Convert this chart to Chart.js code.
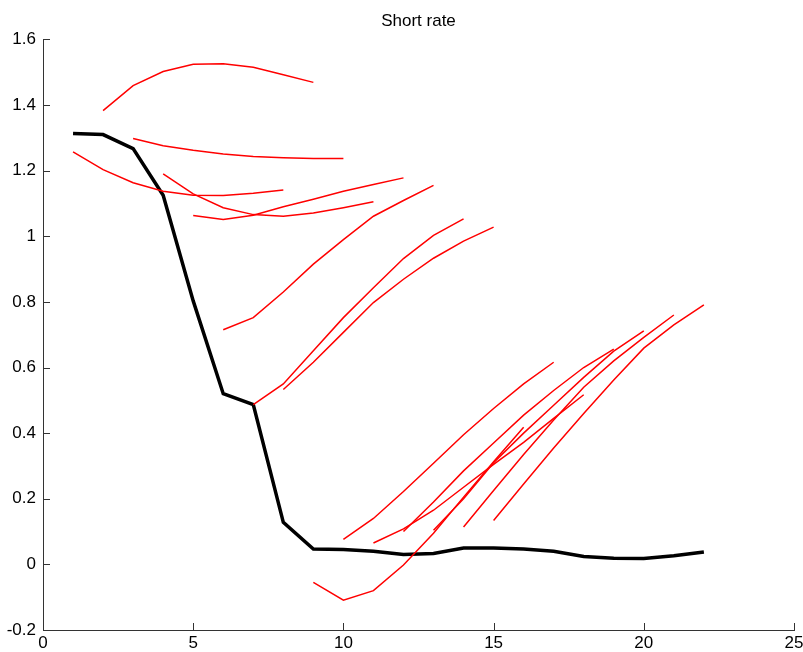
<!DOCTYPE html>
<html>
<head>
<meta charset="utf-8">
<title>Short rate</title>
<script src="https://cdn.jsdelivr.net/npm/chart.js@4/dist/chart.umd.min.js"></script>
<style>
  html, body { margin: 0; padding: 0; background: #fff; }
  #wrap { width: 803px; height: 652px; position: relative; }
</style>
</head>
<body>
<div id="wrap"><canvas id="shortRateChart"></canvas></div>
<script>
// realised short rate, one value per period
const periods = [1, 2, 3, 4, 5, 6, 7, 8, 9, 10, 11, 12, 13, 14, 15, 16, 17, 18, 19, 20, 21, 22];
const shortRate = [1.313, 1.31, 1.267, 1.125, 0.803, 0.52, 0.487, 0.128, 0.047, 0.045, 0.04,
                   0.03, 0.033, 0.05, 0.05, 0.047, 0.04, 0.024, 0.019, 0.018, 0.026, 0.038];

// forecast paths: each starts at its period and runs 8 periods ahead
const forecastStarts = [1, 2, 3, 4, 5, 6, 7, 8, 9, 10, 11, 12, 13, 14, 15];
const forecasts = [
    [1.257, 1.203, 1.163, 1.137, 1.125, 1.124, 1.131, 1.141],
    [1.383, 1.459, 1.502, 1.524, 1.526, 1.515, 1.492, 1.469],
    [1.298, 1.276, 1.262, 1.251, 1.243, 1.239, 1.237, 1.237],
    [1.19, 1.129, 1.087, 1.066, 1.061, 1.071, 1.087, 1.105],
    [1.063, 1.051, 1.064, 1.09, 1.113, 1.137, 1.158, 1.178],
    [0.715, 0.752, 0.83, 0.915, 0.99, 1.061, 1.109, 1.155],
    [0.487, 0.55, 0.651, 0.752, 0.843, 0.932, 1.003, 1.053],
    [0.533, 0.616, 0.707, 0.798, 0.869, 0.933, 0.985, 1.028],
    [-0.055, -0.109, -0.08, -0.002, 0.095, 0.205, 0.313, 0.418],
    [0.076, 0.14, 0.222, 0.308, 0.395, 0.475, 0.55, 0.616],
    [0.065, 0.108, 0.165, 0.235, 0.305, 0.372, 0.445, 0.517],
    [0.1, 0.19, 0.285, 0.37, 0.455, 0.53, 0.6, 0.656],
    [0.104, 0.2, 0.31, 0.4, 0.485, 0.57, 0.65, 0.712],
    [0.114, 0.225, 0.335, 0.44, 0.54, 0.62, 0.692, 0.76],
    [0.134, 0.245, 0.355, 0.46, 0.562, 0.659, 0.73, 0.791]
];

const xTicks = [0, 5, 10, 15, 20, 25];
const yTicks = [-0.2, 0, 0.2, 0.4, 0.6, 0.8, 1, 1.2, 1.4, 1.6];

const FONT = "'Liberation Sans', Arial, sans-serif";
const AXIS_COLOR = "#333";

// matlab style ticks pointing into the plot
const inwardTicks = {
    id: "inwardTicks",
    afterDraw(chart) {
        const { ctx, chartArea, scales } = chart;
        const len = 7;
        ctx.save();
        ctx.strokeStyle = AXIS_COLOR;
        ctx.lineWidth = 1;
        ctx.beginPath();
        xTicks.forEach(function (v) {
            const px = Math.round(scales.x.getPixelForValue(v)) + 0.5;
            ctx.moveTo(px, chartArea.bottom);
            ctx.lineTo(px, chartArea.bottom - len);
        });
        yTicks.forEach(function (v) {
            const py = Math.round(scales.y.getPixelForValue(v)) + 0.5;
            ctx.moveTo(chartArea.left, py);
            ctx.lineTo(chartArea.left + len, py);
        });
        ctx.stroke();
        ctx.restore();
    }
};

const datasets = forecasts.map(function (path, i) {
    return {
        label: "Forecast from " + forecastStarts[i],
        data: path.map(function (v, h) { return { x: forecastStarts[i] + h, y: v }; }),
        borderColor: "#ff0000",
        borderWidth: 1.5,
        order: 0
    };
});
datasets.push({
    label: "Short rate",
    data: periods.map(function (p, i) { return { x: p, y: shortRate[i] }; }),
    borderColor: "#000000",
    borderWidth: 3.5,
    order: 1
});

new Chart(document.getElementById("shortRateChart"), {
    type: "line",
    data: { datasets: datasets },
    options: {
        responsive: true,
        maintainAspectRatio: false,
        animation: false,
        layout: { padding: 0 },
        elements: {
            point: { radius: 0 },
            line: { tension: 0, borderCapStyle: "butt", borderJoinStyle: "miter" }
        },
        scales: {
            x: {
                type: "linear",
                min: 0,
                max: 25,
                afterBuildTicks: function (scale) {
                    scale.ticks = xTicks.map(function (v) { return { value: v }; });
                },
                afterFit: function (scale) {
                    scale.height = 22;
                    scale.paddingRight = 9;
                },
                grid: { display: false, drawTicks: false },
                border: { display: true, color: AXIS_COLOR, width: 1 },
                ticks: {
                    color: "#000",
                    padding: 3,
                    maxRotation: 0,
                    font: { family: FONT, size: 17 }
                }
            },
            y: {
                type: "linear",
                min: -0.2,
                max: 1.6,
                afterBuildTicks: function (scale) {
                    scale.ticks = yTicks.map(function (v) { return { value: v }; });
                },
                afterFit: function (scale) { scale.width = 43; },
                grid: { display: false, drawTicks: false },
                border: { display: true, color: AXIS_COLOR, width: 1 },
                ticks: {
                    color: "#000",
                    padding: 7,
                    font: { family: FONT, size: 17 },
                    callback: function (v) { return String(Number(v.toFixed(1))); }
                }
            }
        },
        plugins: {
            legend: { display: false },
            tooltip: { enabled: false },
            title: {
                display: true,
                fullSize: false,
                text: "Short rate",
                color: "#000",
                font: { family: FONT, size: 17, weight: "normal" },
                padding: { top: 11, bottom: 8 }
            }
        }
    },
    plugins: [inwardTicks]
});
</script>
</body>
</html>
